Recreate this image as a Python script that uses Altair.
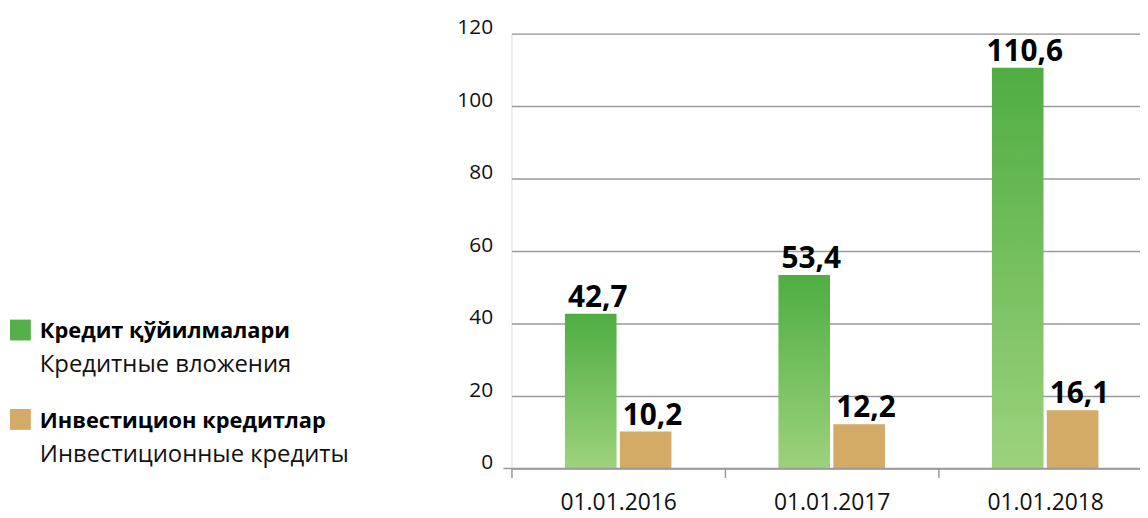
import altair as alt
import pandas as pd

# ---- data ----
dates = ["01.01.2016", "01.01.2017", "01.01.2018"]
credit_values = [42.7, 53.4, 110.6]
invest_values = [10.2, 12.2, 16.1]
series_keys = ["credit", "invest"]
series_titles = ["Кредит қўйилмалари", "Инвестицион кредитлар"]
series_subtitles = ["Кредитные вложения", "Инвестиционные кредиты"]
y_ticks = [0, 20, 40, 60, 80, 100, 120]

# ---- styling ----
FONT = "Open Sans"
GREEN_TOP = "#4fad43"
GREEN_BOTTOM = "#9dd27c"
GOLD = "#d3aa66"
GRID = "#9a9a9a"
TEXT = "#111111"

W, H = 633, 438
STEP = 215
PAD_LEFT, PAD_TOP, PAD_BOTTOM = 507, 24, 50


def fmt(v):
    return f"{v:.1f}".replace(".", ",")


rows = []
for d, c, i in zip(dates, credit_values, invest_values):
    rows.append({"date": d, "series": "credit", "value": c, "label": fmt(c)})
    rows.append({"date": d, "series": "invest", "value": i, "label": fmt(i)})
df = pd.DataFrame(rows)

x_enc = alt.X(
    "date:N",
    sort=dates,
    scale=alt.Scale(range=[0, 3 * STEP], paddingInner=0, paddingOuter=0),
    axis=alt.Axis(
        title=None, labelAngle=0, domain=False, grid=False,
        ticks=True, tickBand="extent", tickSize=9, tickColor=GRID, tickWidth=1.5,
        labelFont=FONT, labelFontSize=23, labelColor=TEXT, labelPadding=14,
    ),
)
xoff_enc = alt.XOffset(
    "series:N", sort=series_keys,
    scale=alt.Scale(paddingInner=0.06, paddingOuter=0.974),
)
y_enc = alt.Y(
    "value:Q",
    scale=alt.Scale(domain=[0, 120], nice=False, zero=True),
    axis=alt.Axis(
        title=None, values=y_ticks, domain=False, ticks=False, tickSize=0,
        grid=True, gridColor=GRID, gridWidth=1.5,
        labelFont=FONT, labelFontSize=21, labelColor=TEXT,
        labelPadding=19, labelBaseline="alphabetic",
    ),
)

green_grad = alt.Gradient(
    gradient="linear",
    stops=[alt.GradientStop(color=GREEN_BOTTOM, offset=0),
           alt.GradientStop(color=GREEN_TOP, offset=1)],
    x1=1, x2=1, y1=1, y2=0,
)

base = alt.Chart(df)

bars_credit = base.transform_filter("datum.series == 'credit'").mark_bar(
    fill=green_grad, stroke=None
).encode(x=x_enc, xOffset=xoff_enc, y=y_enc)

bars_invest = base.transform_filter("datum.series == 'invest'").mark_bar(
    fill=GOLD, stroke=None
).encode(x=x_enc, xOffset=xoff_enc, y=y_enc)

labels = base.mark_text(
    font=FONT, fontSize=30, fontWeight="bold", color="#000000",
    baseline="alphabetic", dy=-7, dx=7,
).encode(x=x_enc, xOffset=xoff_enc, y=y_enc, text="label:N")

one = pd.DataFrame({"k": [0]})
zero_line = alt.Chart(one).mark_rule(color=GRID, strokeWidth=1.5).encode(
    y=alt.datum(0), x=alt.value(-8), x2=alt.value(W)
)

legend_layers = []
for idx, (title, sub) in enumerate(zip(series_titles, series_subtitles)):
    off = 90 * idx
    sq = alt.Chart(one).mark_square(
        size=441, opacity=1, filled=True,
        color=GOLD if idx == 1 else "#55b04a",
    ).encode(x=alt.value(-494.5), y=alt.value(298.5 + off))
    t1 = alt.Chart(pd.DataFrame({"t": [title]})).mark_text(
        font=FONT, fontSize=22, fontWeight="bold", color="#000000",
        align="left", baseline="alphabetic",
    ).encode(x=alt.value(-475), y=alt.value(307 + off), text="t:N")
    t2 = alt.Chart(pd.DataFrame({"t": [sub]})).mark_text(
        font=FONT, fontSize=24, color=TEXT,
        align="left", baseline="alphabetic",
    ).encode(x=alt.value(-475), y=alt.value(341 + off), text="t:N")
    legend_layers += [sq, t1, t2]

chart = alt.layer(
    bars_credit, bars_invest, zero_line, labels, *legend_layers
).properties(
    width=W, height=H,
    autosize=alt.AutoSizeParams(type="none"),
    padding={"left": PAD_LEFT, "top": PAD_TOP, "right": 0, "bottom": PAD_BOTTOM},
).configure_view(stroke=None).configure(background="white")

chart.save("out.html", embed_options={"renderer": "svg", "actions": False})
